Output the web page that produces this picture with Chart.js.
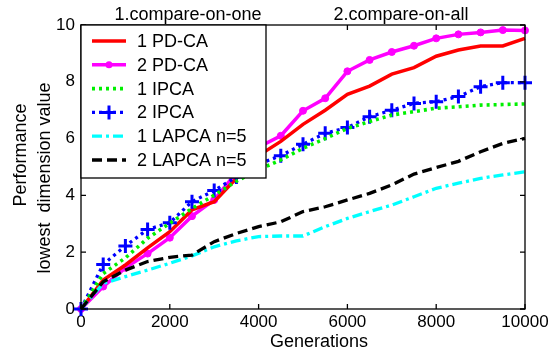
<!DOCTYPE html>
<html>
<head>
<meta charset="utf-8">
<script src="https://cdn.jsdelivr.net/npm/chart.js@4.4.1/dist/chart.umd.min.js"></script>
<style>
  html, body { margin: 0; padding: 0; background: #fff; }
  #wrap { width: 557px; height: 352px; }
</style>
</head>
<body>
<div id="wrap"><canvas id="chart" width="557" height="352"></canvas></div>
<script>
// generations on the x axis
const generations = [0, 500, 1000, 1500, 2000, 2500, 3000, 3500, 4000, 4500, 5000,
    5500, 6000, 6500, 7000, 7500, 8000, 8500, 9000, 9500, 10000];

const pdca1 = [0, 1.02, 1.55, 2.15, 2.72, 3.49, 3.78, 4.6, 5.4, 5.9, 6.5,
    7.0, 7.56, 7.85, 8.27, 8.5, 8.9, 9.12, 9.26, 9.26, 9.53];
const pdca2 = [0, 0.79, 1.45, 1.95, 2.51, 3.27, 3.84, 4.8, 5.7, 6.1, 6.98,
    7.42, 8.37, 8.77, 9.05, 9.27, 9.53, 9.67, 9.74, 9.82, 9.81];
const ipca1 = [0, 1.25, 1.8, 2.49, 3.02, 3.54, 4.01, 4.5, 4.9, 5.25, 5.66,
    6.0, 6.36, 6.6, 6.83, 6.95, 7.07, 7.12, 7.18, 7.2, 7.22];
const ipca2 = [0, 1.57, 2.22, 2.8, 3.04, 3.78, 4.17, 4.65, 5.1, 5.4, 5.8,
    6.19, 6.39, 6.77, 7.0, 7.24, 7.3, 7.48, 7.83, 7.97, 7.97];
const lapca1 = [0, 0.9, 1.14, 1.37, 1.61, 1.87, 2.19, 2.4, 2.55, 2.57, 2.57,
    2.9, 3.19, 3.43, 3.66, 3.95, 4.25, 4.43, 4.6, 4.72, 4.83];
const lapca2 = [0, 0.96, 1.37, 1.67, 1.82, 1.9, 2.37, 2.66, 2.9, 3.07, 3.43,
    3.6, 3.84, 4.07, 4.37, 4.75, 4.98, 5.2, 5.54, 5.83, 6.01];

const seriesNames = ['1 PD-CA', '2 PD-CA', '1 IPCA', '2 IPCA', '1 LAPCA n=5', '2 LAPCA n=5'];
const xTicks = [0, 2000, 4000, 6000, 8000, 10000];
const yTicks = [0, 2, 4, 6, 8, 10];
const titleParts = ['1.compare-on-one', '2.compare-on-all'];
const yTitleLines = ['Performance', 'lowest  dimension value'];
const xTitle = 'Generations';

const FONT = '"Liberation Sans", Arial, sans-serif';
Chart.defaults.font.family = FONT;
Chart.defaults.color = '#000';

function pts(values) {
    return generations.map((g, i) => ({ x: g, y: values[i] }));
}

function line(label, values, color, dash, extra) {
    return Object.assign({
        label: label,
        data: pts(values),
        borderColor: color,
        backgroundColor: color,
        borderWidth: 3.3,
        borderDash: dash,
        borderCapStyle: 'butt',
        pointRadius: 0,
        pointHoverRadius: 0,
        tension: 0,
        clip: false
    }, extra || {});
}

const datasets = [
    line(seriesNames[5], lapca2, '#000000', [10, 5]),
    line(seriesNames[4], lapca1, '#00ffff', [10, 4, 3, 4]),
    line(seriesNames[2], ipca1, '#00f000', [3, 4], { borderWidth: 3.6 }),
    line(seriesNames[3], ipca2, '#0000ff', [3, 4], {
        pointStyle: 'cross', pointRadius: 7, pointBorderWidth: 3
    }),
    line(seriesNames[0], pdca1, '#ff0000', [], { borderWidth: 3.5 }),
    line(seriesNames[1], pdca2, '#ff00ff', [], {
        borderWidth: 3.5, pointStyle: 'circle', pointRadius: 3.5, pointBorderWidth: 1
    })
];

// frame, inward ticks, titles and the boxed legend
const decor = {
    id: 'decor',
    afterDraw(chart) {
        const ctx = chart.ctx;
        const a = chart.chartArea;
        const xs = chart.scales.x, ys = chart.scales.y;
        ctx.save();
        ctx.strokeStyle = '#000';
        ctx.lineWidth = 1.3;
        ctx.setLineDash([]);
        ctx.strokeRect(a.left, a.top, a.right - a.left, a.bottom - a.top);
        const tl = 5;
        ctx.beginPath();
        xTicks.forEach(v => {
            const px = xs.getPixelForValue(v);
            ctx.moveTo(px, a.bottom); ctx.lineTo(px, a.bottom - tl);
            ctx.moveTo(px, a.top); ctx.lineTo(px, a.top + tl);
        });
        yTicks.forEach(v => {
            const py = ys.getPixelForValue(v);
            ctx.moveTo(a.left, py); ctx.lineTo(a.left + tl, py);
            ctx.moveTo(a.right, py); ctx.lineTo(a.right - tl, py);
        });
        ctx.stroke();

        ctx.fillStyle = '#000';
        ctx.font = '18px ' + FONT;
        ctx.textAlign = 'center';
        ctx.textBaseline = 'alphabetic';
        ctx.fillText(titleParts[0], 188, 20);
        ctx.fillText(titleParts[1], 401, 20);
        ctx.fillText(xTitle, 319, 347);

        ctx.save();
        ctx.translate(26, 155);
        ctx.rotate(-Math.PI / 2);
        ctx.fillText(yTitleLines[0], 0, 0);
        ctx.restore();
        ctx.save();
        ctx.translate(50, 178);
        ctx.rotate(-Math.PI / 2);
        ctx.fillText(yTitleLines[1], 0, 0);
        ctx.restore();

        // legend box
        const bx = a.left, by = a.top, bw = 185, bh = 153;
        ctx.fillStyle = '#fff';
        ctx.fillRect(bx, by, bw, bh);
        ctx.strokeStyle = '#000';
        ctx.lineWidth = 1.3;
        ctx.strokeRect(bx, by, bw, bh);
        seriesNames.forEach((name, i) => {
            const ds = chart.data.datasets.find(d => d.label === name);
            const y = by + 16 + i * 23.8;
            const x0 = bx + 11, x1 = bx + 45;
            ctx.save();
            ctx.strokeStyle = ds.borderColor;
            ctx.lineWidth = ds.borderWidth;
            ctx.lineCap = 'butt';
            ctx.setLineDash(ds.borderDash);
            ctx.beginPath();
            ctx.moveTo(x0, y); ctx.lineTo(x1, y);
            ctx.stroke();
            ctx.setLineDash([]);
            const mx = (x0 + x1) / 2;
            if (ds.pointStyle === 'circle') {
                ctx.fillStyle = ds.borderColor;
                ctx.beginPath();
                ctx.arc(mx, y, ds.pointRadius, 0, Math.PI * 2);
                ctx.fill();
            } else if (ds.pointStyle === 'cross') {
                ctx.lineWidth = ds.pointBorderWidth;
                ctx.beginPath();
                ctx.moveTo(mx - ds.pointRadius, y); ctx.lineTo(mx + ds.pointRadius, y);
                ctx.moveTo(mx, y - ds.pointRadius); ctx.lineTo(mx, y + ds.pointRadius);
                ctx.stroke();
            }
            ctx.restore();
            ctx.fillStyle = '#000';
            ctx.font = '18px ' + FONT;
            ctx.textAlign = 'left';
            ctx.textBaseline = 'middle';
            ctx.fillText(name, bx + 56, y + 1);
        });
        ctx.restore();
    }
};

new Chart(document.getElementById('chart').getContext('2d'), {
    type: 'line',
    data: { datasets: datasets },
    options: {
        responsive: false,
        animation: false,
        events: [],
        layout: { padding: { top: 25, right: 32, left: 0, bottom: 0 } },
        plugins: {
            legend: { display: false },
            title: { display: false },
            tooltip: { enabled: false }
        },
        scales: {
            x: {
                type: 'linear',
                min: 0,
                max: 10000,
                afterFit: s => { s.height = 43; },
                afterBuildTicks: s => { s.ticks = xTicks.map(v => ({ value: v })); },
                grid: { display: false, drawTicks: false },
                border: { display: false },
                ticks: { font: { size: 17 }, padding: 3, maxRotation: 0, callback: v => String(v) }
            },
            y: {
                type: 'linear',
                min: 0,
                max: 10,
                afterFit: s => { s.width = 81; },
                afterBuildTicks: s => { s.ticks = yTicks.map(v => ({ value: v })); },
                grid: { display: false, drawTicks: false },
                border: { display: false },
                ticks: { font: { size: 17 }, padding: 6, callback: v => String(v) }
            }
        }
    },
    plugins: [decor]
});
</script>
</body>
</html>
